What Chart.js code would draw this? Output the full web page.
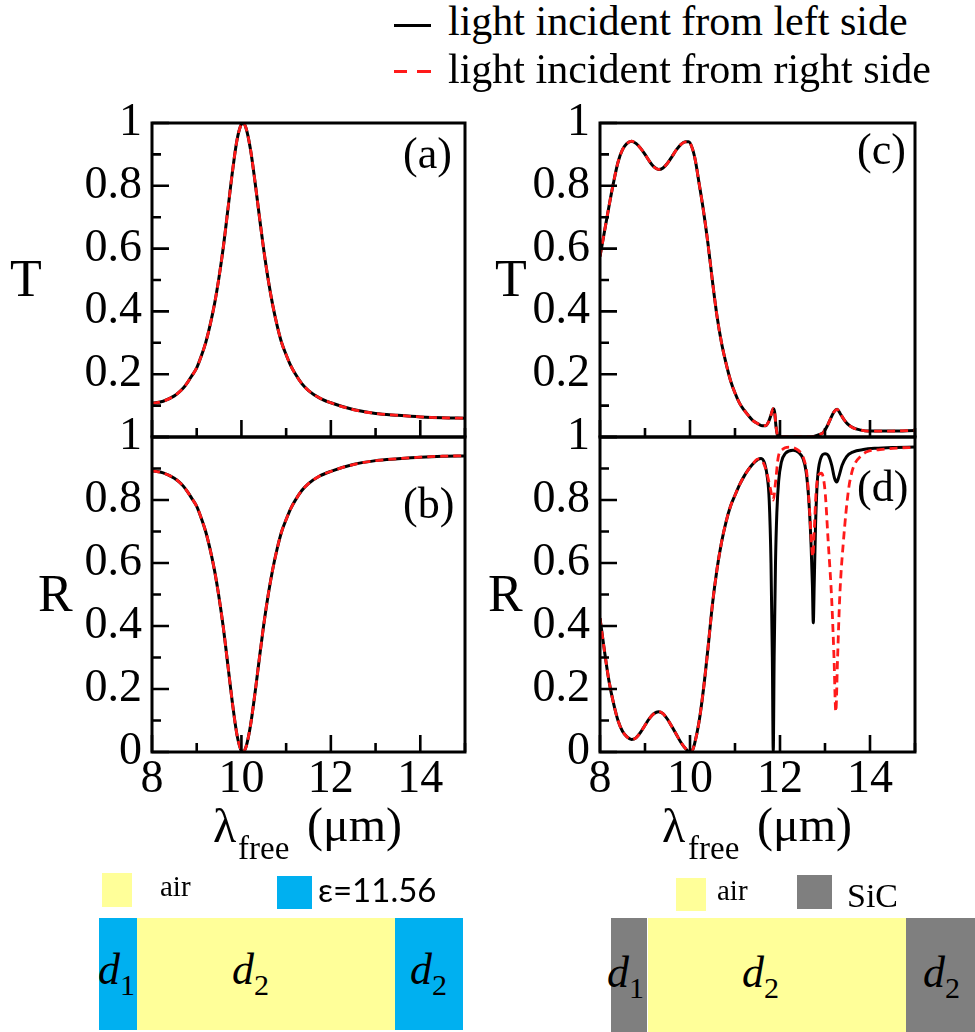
<!DOCTYPE html>
<html><head><meta charset="utf-8">
<script src="https://cdn.jsdelivr.net/npm/chart.js@4.4.0/dist/chart.umd.min.js"></script>
<style>
html,body{margin:0;padding:0;background:#fff;}
body{width:975px;height:1032px;position:relative;overflow:hidden;font-family:'Liberation Serif','Times New Roman',Times,serif;}
canvas{position:absolute;}
.t{position:absolute;white-space:nowrap;line-height:1;color:#000;}
.bx{position:absolute;}
</style></head><body>
<script>
// ---------- data ----------
const xTickMajor = [8, 10, 12, 14];
const yTickMajor = [0, 0.2, 0.4, 0.6, 0.8, 1];
const xTickLabels = ['8', '10', '12', '14'];
const yTickLabels = ['0', '0.2', '0.4', '0.6', '0.8', '1'];

// panel (a)/(b): dielectric structure
const xA = [8, 8.25, 8.5, 8.6, 8.7, 8.8, 8.9, 9.0, 9.1, 9.2, 9.3, 9.4, 9.5, 9.6, 9.7, 9.8, 9.9, 10.0, 10.03, 10.1, 10.2, 10.3, 10.4, 10.5, 10.6, 10.7, 10.8, 10.9, 11.0, 11.1, 11.2, 11.35, 11.5, 11.75, 12, 12.5, 13, 13.5, 14, 14.5, 15];
const tA = [0.107, 0.114, 0.131, 0.142, 0.156, 0.175, 0.197, 0.22, 0.257, 0.30, 0.357, 0.425, 0.51, 0.61, 0.728, 0.846, 0.945, 0.997, 1.0, 0.985, 0.918, 0.817, 0.704, 0.595, 0.50, 0.42, 0.354, 0.30, 0.262, 0.228, 0.202, 0.17, 0.148, 0.124, 0.109, 0.0875, 0.075, 0.069, 0.064, 0.061, 0.06];
const rB = [0.893, 0.886, 0.869, 0.858, 0.844, 0.825, 0.803, 0.78, 0.743, 0.70, 0.643, 0.575, 0.49, 0.39, 0.272, 0.154, 0.055, 0.003, 0.0, 0.015, 0.082, 0.183, 0.296, 0.405, 0.50, 0.58, 0.646, 0.70, 0.738, 0.772, 0.798, 0.83, 0.852, 0.876, 0.891, 0.9125, 0.925, 0.931, 0.936, 0.939, 0.94];

// panel (c): SiC structure transmission (same for both sides)
const xC = [8, 8.1, 8.2, 8.3, 8.4, 8.5, 8.6, 8.7, 8.8, 8.9, 9.0, 9.1, 9.2, 9.3, 9.4, 9.5, 9.6, 9.7, 9.8, 9.9, 9.97, 10.05, 10.12, 10.2, 10.3, 10.4, 10.5, 10.6, 10.7, 10.8, 10.9, 11.0, 11.1, 11.2, 11.3, 11.4, 11.5, 11.6, 11.68, 11.75, 11.8, 11.85, 11.88, 11.91, 11.94, 11.98, 12.7, 12.8, 12.9, 12.96, 13.05, 13.11, 13.2, 13.27, 13.34, 13.41, 13.5, 13.63, 13.8, 13.95, 14.5, 15];
const tC = [0.575, 0.655, 0.735, 0.81, 0.875, 0.915, 0.935, 0.942, 0.935, 0.92, 0.90, 0.878, 0.86, 0.852, 0.857, 0.872, 0.893, 0.915, 0.932, 0.94, 0.94, 0.92, 0.88, 0.81, 0.72, 0.615, 0.495, 0.385, 0.30, 0.235, 0.18, 0.14, 0.108, 0.086, 0.068, 0.052, 0.043, 0.036, 0.036, 0.05, 0.07, 0.09, 0.08, 0.035, 0.008, 0.0, 0.0, 0.004, 0.009, 0.014, 0.035, 0.054, 0.08, 0.088, 0.074, 0.058, 0.042, 0.029, 0.022, 0.019, 0.019, 0.021];

// panel (d): reflection, light from left (black)
const xDL = [8, 8.1, 8.2, 8.3, 8.4, 8.5, 8.6, 8.7, 8.8, 8.9, 9.0, 9.1, 9.2, 9.3, 9.4, 9.5, 9.6, 9.7, 9.8, 9.9, 10.0, 10.05, 10.1, 10.2, 10.3, 10.4, 10.5, 10.6, 10.7, 10.8, 10.9, 11.0, 11.1, 11.2, 11.3, 11.4, 11.5, 11.58, 11.66, 11.72, 11.76, 11.8, 11.83, 11.85, 11.87, 11.9, 11.93, 11.97, 12.03, 12.12, 12.29, 12.42, 12.51, 12.58, 12.64, 12.69, 12.72, 12.74, 12.76, 12.79, 12.83, 12.9, 13.0, 13.08, 13.15, 13.21, 13.26, 13.31, 13.38, 13.48, 13.63, 13.85, 14.1, 14.5, 15];
const rDL = [0.425, 0.32, 0.225, 0.155, 0.10, 0.066, 0.048, 0.04, 0.045, 0.062, 0.085, 0.107, 0.122, 0.128, 0.122, 0.104, 0.08, 0.055, 0.03, 0.011, 0.0, 0.004, 0.025, 0.095, 0.20, 0.33, 0.47, 0.58, 0.665, 0.73, 0.78, 0.815, 0.848, 0.875, 0.897, 0.915, 0.928, 0.932, 0.915, 0.87, 0.80, 0.60, 0.30, 0.0, 0.30, 0.60, 0.76, 0.86, 0.92, 0.948, 0.958, 0.95, 0.932, 0.89, 0.80, 0.66, 0.53, 0.41, 0.53, 0.72, 0.86, 0.93, 0.947, 0.94, 0.91, 0.87, 0.857, 0.875, 0.91, 0.938, 0.953, 0.96, 0.964, 0.967, 0.968];

// panel (d): reflection, light from right (red dashed)
const xDR = [8, 8.1, 8.2, 8.3, 8.4, 8.5, 8.6, 8.7, 8.8, 8.9, 9.0, 9.1, 9.2, 9.3, 9.4, 9.5, 9.6, 9.7, 9.8, 9.9, 10.0, 10.05, 10.1, 10.2, 10.3, 10.4, 10.5, 10.6, 10.7, 10.8, 10.9, 11.0, 11.1, 11.2, 11.3, 11.4, 11.5, 11.6, 11.7, 11.78, 11.85, 11.9, 11.96, 12.05, 12.2, 12.35, 12.45, 12.53, 12.6, 12.66, 12.7, 12.73, 12.76, 12.8, 12.86, 12.92, 13.0, 13.07, 13.15, 13.2, 13.24, 13.28, 13.33, 13.41, 13.52, 13.6, 13.67, 13.8, 13.93, 14.22, 14.6, 15];
const rDR = [0.425, 0.32, 0.225, 0.155, 0.10, 0.066, 0.048, 0.04, 0.045, 0.062, 0.085, 0.107, 0.122, 0.128, 0.122, 0.104, 0.08, 0.055, 0.03, 0.011, 0.0, 0.004, 0.025, 0.095, 0.20, 0.33, 0.47, 0.58, 0.665, 0.73, 0.78, 0.815, 0.848, 0.875, 0.897, 0.915, 0.93, 0.925, 0.89, 0.84, 0.80, 0.855, 0.935, 0.96, 0.968, 0.963, 0.952, 0.93, 0.88, 0.76, 0.66, 0.62, 0.70, 0.82, 0.88, 0.885, 0.83, 0.67, 0.48, 0.30, 0.128, 0.30, 0.50, 0.67, 0.83, 0.89, 0.917, 0.94, 0.953, 0.96, 0.965, 0.967];

// ---------- helpers ----------
const SERIF = "'Liberation Serif','Times New Roman',Times,serif";
const pts = (xs, ys) => xs.map((x, i) => ({x: x, y: ys[i]}));
const isMajor = (arr, v) => arr.some(m => Math.abs(m - v) < 1e-6);
const labelOf = (arr, labels, v) => { const i = arr.findIndex(m => Math.abs(m - v) < 1e-6); return i >= 0 ? labels[i] : ''; };

const framePlugin = {
  id: 'frame',
  afterDatasetsDraw(chart) {
    const {ctx, chartArea: a, scales: {x, y}} = chart;
    ctx.save();
    ctx.strokeStyle = '#000';
    ctx.lineWidth = 2.6;
    ctx.beginPath();
    x.ticks.forEach(t => {
      const px = x.getPixelForValue(t.value);
      const L = isMajor(xTickMajor, t.value) ? 17 : 9;
      ctx.moveTo(px, a.bottom); ctx.lineTo(px, a.bottom - L);
    });
    y.ticks.forEach(t => {
      const py = y.getPixelForValue(t.value);
      const L = isMajor(yTickMajor, t.value) ? 17 : 9;
      ctx.moveTo(a.left, py); ctx.lineTo(a.left + L, py);
    });
    ctx.stroke();
    ctx.lineWidth = 3;
    ctx.strokeRect(a.left, a.top, a.right - a.left, a.bottom - a.top);
    ctx.restore();
  }
};

function panel(left, top, width, height, pad, yW, xH, series, showX, skipZero) {
  const c = document.createElement('canvas');
  c.width = width; c.height = height;
  c.style.left = left + 'px'; c.style.top = top + 'px';
  c.style.width = width + 'px'; c.style.height = height + 'px';
  document.body.appendChild(c);
  new Chart(c, {
    type: 'line',
    data: {
      datasets: series.map(s => ({
        data: s.data,
        borderColor: s.color,
        borderWidth: s.w,
        borderDash: s.dash || [],
        pointRadius: 0,
        fill: false,
        cubicInterpolationMode: 'monotone'
      }))
    },
    options: {
      responsive: false,
      animation: false,
      events: [],
      layout: {padding: pad},
      plugins: {legend: {display: false}, tooltip: {enabled: false}},
      scales: {
        x: {
          type: 'linear', min: 8, max: 15,
          grid: {display: false, drawTicks: false},
          border: {display: false},
          ticks: {
            display: showX, stepSize: 1, autoSkip: false, includeBounds: false, maxRotation: 0,
            padding: 0, color: '#000', font: {family: SERIF, size: 46},
            callback: v => labelOf(xTickMajor, xTickLabels, v)
          },
          afterFit: s => { s.height = xH; }
        },
        y: {
          type: 'linear', min: 0, max: 1,
          grid: {display: false, drawTicks: false},
          border: {display: false},
          ticks: {
            stepSize: 0.1, autoSkip: false, padding: 10, color: '#000', font: {family: SERIF, size: 46},
            callback: v => (skipZero && Math.abs(v) < 1e-6) ? '' : labelOf(yTickMajor, yTickLabels, v)
          },
          afterFit: s => { s.width = yW; }
        }
      }
    },
    plugins: [framePlugin]
  });
}

const RED = '#ff1a1a';
// (a)
panel(0, 73, 480, 414, {top: 50, bottom: 50, left: 0, right: 15}, 152, 0, [
  {data: pts(xA, tA), color: RED, w: 2.8, dash: [8, 5]},
  {data: pts(xA, tA), color: '#000', w: 3}
], false, true);
// (b)
panel(0, 387, 480, 435, {top: 50, bottom: 0, left: 0, right: 15}, 152, 70, [
  {data: pts(xA, rB), color: RED, w: 2.8, dash: [8, 5]},
  {data: pts(xA, rB), color: '#000', w: 3}
], true, false);
// (c)
panel(480, 73, 450, 414, {top: 50, bottom: 50, left: 0, right: 15}, 120, 0, [
  {data: pts(xC, tC), color: RED, w: 2.8, dash: [8, 5]},
  {data: pts(xC, tC), color: '#000', w: 3}
], false, true);
// (d)
panel(480, 387, 450, 435, {top: 50, bottom: 0, left: 0, right: 15}, 120, 70, [
  {data: pts(xDR, rDR), color: RED, w: 2.8, dash: [8, 5]},
  {data: pts(xDL, rDL), color: '#000', w: 3}
], true, false);

// ---------- text & decorations ----------
function txt(str, x, base, size, opt) {
  opt = opt || {};
  const d = document.createElement('div');
  d.className = 't';
  d.textContent = str;
  const fam = opt.family || SERIF;
  const asc = opt.asc || 0.8375;
  d.style.left = x + 'px';
  d.style.top = (base - asc * size) + 'px';
  d.style.fontSize = size + 'px';
  d.style.fontFamily = fam;
  if (opt.italic) d.style.fontStyle = 'italic';
  document.body.appendChild(d);
}
function rect(x, y, w, h, col) {
  const d = document.createElement('div');
  d.className = 'bx';
  d.style.left = x + 'px'; d.style.top = y + 'px';
  d.style.width = w + 'px'; d.style.height = h + 'px';
  d.style.background = col;
  document.body.appendChild(d);
}

// legend
rect(394, 24, 37, 3, '#000');
rect(394, 70, 13, 3, RED);
rect(417, 70, 14, 3, RED);
txt('light incident from left side', 448, 35, 42);
txt('light incident from right side', 448, 83, 42);

// axis letters
txt('T', 10, 297, 52);
txt('R', 38, 612, 52);
txt('T', 495, 297, 52);
txt('R', 488, 612, 52);

// panel tags
txt('(a)', 403, 169, 44);
txt('(b)', 403, 519, 44);
txt('(c)', 857, 165, 44);
txt('(d)', 857, 502, 44);

// x titles
txt('λ', 213, 842, 48);
txt('free', 238, 860, 33);
txt('(μm)', 307, 841, 48);
txt('λ', 662, 842, 48);
txt('free', 688, 860, 33);
txt('(μm)', 757, 841, 48);

// structure sketches
const BLUE = '#00b0f0', YEL = '#ffff99', GRAY = '#7f7f7f';
rect(102, 873, 30, 34, YEL);
txt('air', 160, 896, 29);
rect(277, 876, 35, 33, BLUE);
txt('ε=11.56', 318, 902, 33, {family: "Lato, 'Open Sans', sans-serif", asc: 0.887});
rect(99, 918, 38, 112, BLUE);
rect(137, 918, 258, 112, YEL);
rect(395, 918, 68, 112, BLUE);
txt('d', 98, 985, 44, {italic: true});
txt('1', 120, 995, 30);
txt('d', 232, 985, 44, {italic: true});
txt('2', 254, 995, 30);
txt('d', 410, 985, 44, {italic: true});
txt('2', 432, 995, 30);

rect(676, 878, 30, 33, YEL);
txt('air', 717, 900, 29);
rect(797, 875, 35, 34, GRAY);
txt('SiC', 847, 907, 34);
rect(611, 918, 36, 114, GRAY);
rect(648, 918, 258, 114, YEL);
rect(906, 918, 69, 114, GRAY);
txt('d', 607, 988, 44, {italic: true});
txt('1', 629, 998, 30);
txt('d', 742, 988, 44, {italic: true});
txt('2', 764, 998, 30);
txt('d', 923, 988, 44, {italic: true});
txt('2', 945, 998, 30);
</script>
</body></html>
